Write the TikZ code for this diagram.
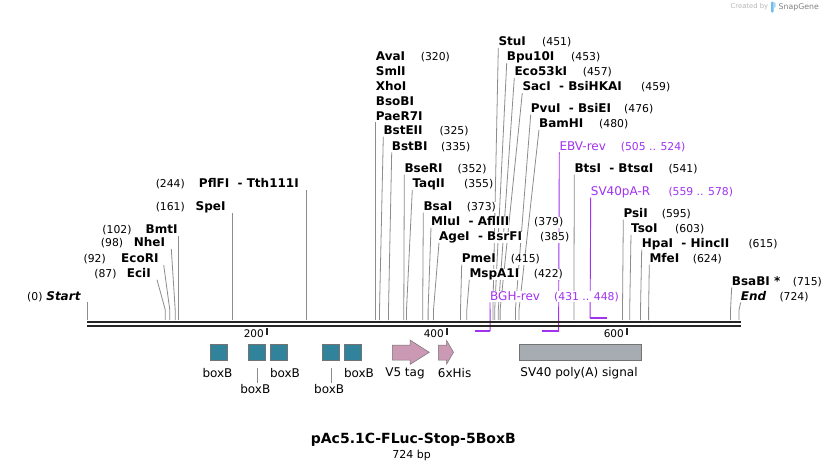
\documentclass[tikz,border=0pt]{standalone}
\usepackage{fontspec}
\setmainfont{DejaVu Sans}
\usetikzlibrary{backgrounds}

\definecolor{boxteal}{RGB}{49,131,155}
\definecolor{tagpink}{RGB}{204,153,180}
\definecolor{polyagray}{RGB}{166,172,178}
\definecolor{primerpurple}{RGB}{160,50,240}
\definecolor{sitegray}{RGB}{140,140,140}
\definecolor{logoblue}{RGB}{110,190,235}

\begin{document}
\begin{tikzpicture}[x=1pt,y=-1pt,
  enz/.style={font=\fontsize{12}{14}\selectfont\bfseries,inner sep=0pt,text height=8.8pt,text depth=2.2pt,fill=white},
  enzit/.style={enz,font=\fontsize{12}{14}\selectfont\bfseries\itshape},
  num/.style={font=\fontsize{10.8}{13}\selectfont,inner sep=0pt,text height=8.8pt,text depth=2.2pt,fill=white},
  prm/.style={font=\fontsize{12}{14}\selectfont,text=primerpurple,inner sep=0pt,text height=8.8pt,text depth=2.2pt,fill=white},
  prmnum/.style={num,text=primerpurple},
  site/.style={draw=sitegray,line width=0.8pt},
  oligo/.style={draw=primerpurple,line width=0.9pt},
  feat/.style={font=\fontsize{12}{14}\selectfont,inner sep=1pt},
  boxb/.style={draw=black!55,line width=0.5pt,fill=boxteal,minimum width=17.4pt,minimum height=16pt,inner sep=0pt},
  ruler/.style={font=\fontsize{10.5}{12}\selectfont,inner sep=0pt}]

\useasboundingbox (0,0) rectangle (828,471);

% backbone
\draw[line width=2.4pt,black!85] (87,322.2) -- (741,322.2);
\draw[line width=2.4pt,black!85] (87,326.2) -- (741,326.2);
\draw[line width=2pt,black!85] (267,328) -- (267,335);
\draw[line width=2pt,black!85] (447,328) -- (447,335);
\draw[line width=2pt,black!85] (627,328) -- (627,335);
\node[ruler,anchor=east] (r200) at (264,334) {200};
\node[ruler,anchor=east] (r400) at (444,334) {400};
\node[ruler,anchor=east] (r600) at (624,334) {600};

% sites, left side
\coordinate (startB) at (87.5,320);
\node[enzit,anchor=east] (start) at (80.7,296.7) {Start};
\node[num,anchor=east] (startN) at (42.7,296.7) {(0)};
\coordinate (eciB) at (165.3,320);
\node[enz,anchor=east] (eci) at (151,274) {EciI};
\node[num,anchor=east] (eciN) at (116.7,274) {(87)};
\coordinate (ecoB) at (169.8,320);
\node[enz,anchor=east] (eco) at (158.7,259.3) {EcoRI};
\node[num,anchor=east] (ecoN) at (106,259.3) {(92)};
\coordinate (nheB) at (175.2,320);
\node[enz,anchor=east] (nhe) at (165.3,243.3) {NheI};
\node[num,anchor=east] (nheN) at (123.3,243.3) {(98)};
\coordinate (bmtB) at (178.8,320);
\node[enz,anchor=east] (bmt) at (177.7,230) {BmtI};
\node[num,anchor=east] (bmtN) at (131.7,230) {(102)};
\coordinate (speB) at (231.9,320);
\node[enz,anchor=east] (spe) at (225.7,207.3) {SpeI};
\node[num,anchor=east] (speN) at (185,207.3) {(161)};
\coordinate (pflB) at (306.6,320);
\node[enz,anchor=east] (pfl) at (299,184.3) {PflFI\ \ - Tth111I};
\node[num,anchor=east] (pflN) at (185,184.3) {(244)};

% sites, right side
\coordinate (avaB) at (375,320);
\node[enz,anchor=west] (ava) at (375.7,56.7) {AvaI};
\node[num,anchor=west] (avaN) at (420.7,56.7) {(320)};
\node[enz,anchor=west] (sml) at (375.7,71.7) {SmlI};
\node[enz,anchor=west] (xho) at (375.7,86.7) {XhoI};
\node[enz,anchor=west] (bso) at (375.7,101.7) {BsoBI};
\node[enz,anchor=west] (pae) at (375.7,116.7) {PaeR7I};
\coordinate (bsteB) at (379.5,320);
\node[enz,anchor=west] (bste) at (383.3,131) {BstEII};
\node[num,anchor=west] (bsteN) at (439.3,131) {(325)};
\coordinate (bstbB) at (388.5,320);
\node[enz,anchor=west] (bstb) at (391.7,146.7) {BstBI};
\node[num,anchor=west] (bstbN) at (441,146.7) {(335)};
\coordinate (bserB) at (403.8,320);
\node[enz,anchor=west] (bser) at (404.3,169) {BseRI};
\node[num,anchor=west] (bserN) at (457.3,169) {(352)};
\coordinate (taqB) at (406.5,320);
\node[enz,anchor=west] (taq) at (412.3,184.3) {TaqII};
\node[num,anchor=west] (taqN) at (464,184.3) {(355)};
\coordinate (bsaB) at (422.7,320);
\node[enz,anchor=west] (bsa) at (423.3,207) {BsaI};
\node[num,anchor=west] (bsaN) at (466.7,207) {(373)};
\coordinate (mluB) at (428.1,320);
\node[enz,anchor=west] (mlu) at (431,222) {MluI\ \ - AflIII};
\node[num,anchor=west] (mluN) at (534,222) {(379)};
\coordinate (ageB) at (433.5,320);
\node[enz,anchor=west] (age) at (439,237) {AgeI\ \ - BsrFI};
\node[num,anchor=west] (ageN) at (540,237) {(385)};
\coordinate (pmeB) at (460.5,320);
\node[enz,anchor=west] (pme) at (461.7,259) {PmeI};
\node[num,anchor=west] (pmeN) at (510.7,259) {(415)};
\coordinate (mspB) at (466.8,320);
\node[enz,anchor=west] (msp) at (469.3,274) {MspA1I};
\node[num,anchor=west] (mspN) at (533.7,274) {(422)};
\coordinate (stuB) at (492.9,320);
\node[enz,anchor=west] (stu) at (498.3,42.3) {StuI};
\node[num,anchor=west] (stuN) at (542,42.3) {(451)};
\coordinate (bpuB) at (494.7,320);
\node[enz,anchor=west] (bpu) at (506.7,57.3) {Bpu10I};
\node[num,anchor=west] (bpuN) at (571,57.3) {(453)};
\coordinate (ecokB) at (498.3,320);
\node[enz,anchor=west] (ecok) at (514.3,72.3) {Eco53kI};
\node[num,anchor=west] (ecokN) at (582.7,72.3) {(457)};
\coordinate (sacB) at (500.1,320);
\node[enz,anchor=west] (sac) at (522.3,87.3) {SacI\ \ - BsiHKAI};
\node[num,anchor=west] (sacN) at (641,87.3) {(459)};
\coordinate (pvuB) at (515.4,320);
\node[enz,anchor=west] (pvu) at (530.7,109) {PvuI\ \ - BsiEI};
\node[num,anchor=west] (pvuN) at (624,109) {(476)};
\coordinate (bamB) at (519,320);
\node[enz,anchor=west] (bam) at (539,124) {BamHI};
\node[num,anchor=west] (bamN) at (599,124) {(480)};
\coordinate (btsB) at (573.9,320);
\node[enz,anchor=west] (bts) at (574.3,169) {BtsI\ \ - BtsαI};
\node[num,anchor=west] (btsN) at (668.3,169) {(541)};
\coordinate (psiB) at (622.5,320);
\node[enz,anchor=west] (psi) at (623.3,214) {PsiI};
\node[num,anchor=west] (psiN) at (661.7,214) {(595)};
\coordinate (tsoB) at (629.7,320);
\node[enz,anchor=west] (tso) at (631,229) {TsoI};
\node[num,anchor=west] (tsoN) at (675,229) {(603)};
\coordinate (hpaB) at (640.5,320);
\node[enz,anchor=west] (hpa) at (641.7,244) {HpaI\ \ - HincII};
\node[num,anchor=west] (hpaN) at (748.3,244) {(615)};
\coordinate (mfeB) at (648.6,320);
\node[enz,anchor=west] (mfe) at (649.3,259) {MfeI};
\node[num,anchor=west] (mfeN) at (692.7,259) {(624)};
\coordinate (bsabB) at (730.5,320);
\node[enz,anchor=west] (bsab) at (731.7,281.7) {BsaBI *};
\node[num,anchor=west] (bsabN) at (792.7,281.7) {(715)};
\coordinate (endB) at (739,320);
\node[enzit,anchor=west] (end) at (740.7,296.7) {End};
\node[num,anchor=west] (endN) at (779.3,296.7) {(724)};

% primers
\coordinate (bghR) at (490.2,331);
\coordinate (bghL) at (474.9,331);
\node[prm,anchor=west] (bgh) at (490,296.7) {BGH-rev};
\node[prmnum,anchor=west] (bghN) at (554,296.7) {(431 .. 448)};
\coordinate (ebvR) at (558.6,331);
\coordinate (ebvL) at (541.5,331);
\node[prm,anchor=west] (ebv) at (559.3,146.7) {EBV-rev};
\node[prmnum,anchor=west] (ebvN) at (620.7,146.7) {(505 .. 524)};
\coordinate (svL) at (590.1,318);
\coordinate (svR) at (607.2,318);
\node[prm,anchor=west] (sv) at (590.7,191.7) {SV40pA-R};
\node[prmnum,anchor=west] (svN) at (668.3,191.7) {(559 .. 578)};

\begin{scope}[on background layer]
\fill[white] (0,0) rectangle (828,471);
\draw[site] (startB) -- (startB |- start.south);
\draw[site] ([xshift=6pt]eci.south east) -- ([yshift=10pt]eciB) -- (eciB);
\draw[site] ([xshift=5pt]eco.south east) -- ([yshift=10pt]ecoB) -- (ecoB);
\draw[site] ([xshift=6pt]nhe.south east) -- ([yshift=10pt]nheB) -- (nheB);
\draw[site] (bmtB) -- (bmtB |- bmt.south);
\draw[site] (speB) -- (speB |- spe.south);
\draw[site] (pflB) -- (pflB |- pfl.south);
\draw[site] (avaB) -- (avaB |- pae.south);
\draw[site] (bste.south west) -- ([yshift=10pt]bsteB) -- (bsteB);
\draw[site] (bstb.south west) -- ([yshift=10pt]bstbB) -- (bstbB);
\draw[site] (bser.south west) -- ([yshift=10pt]bserB) -- (bserB);
\draw[site] (taq.south west) -- ([yshift=10pt]taqB) -- (taqB);
\draw[site] (bsa.south west) -- ([yshift=10pt]bsaB) -- (bsaB);
\draw[site] (mlu.south west) -- ([yshift=10pt]mluB) -- (mluB);
\draw[site] (age.south west) -- ([yshift=10pt]ageB) -- (ageB);
\draw[site] (pme.south west) -- ([yshift=10pt]pmeB) -- (pmeB);
\draw[site] (msp.south west) -- ([yshift=10pt]mspB) -- (mspB);
\draw[site] (stu.south west) -- ([yshift=10pt]stuB) -- (stuB);
\draw[site] (bpu.south west) -- ([yshift=10pt]bpuB) -- (bpuB);
\draw[site] (ecok.south west) -- ([yshift=10pt]ecokB) -- (ecokB);
\draw[site] (sac.south west) -- ([yshift=10pt]sacB) -- (sacB);
\draw[site] (pvu.south west) -- ([yshift=10pt]pvuB) -- (pvuB);
\draw[site] (bam.south west) -- ([yshift=10pt]bamB) -- (bamB);
\draw[site] (bts.south west) -- ([yshift=10pt]btsB) -- (btsB);
\draw[site] (psi.south west) -- ([yshift=10pt]psiB) -- (psiB);
\draw[site] (tso.south west) -- ([yshift=10pt]tsoB) -- (tsoB);
\draw[site] (hpa.south west) -- ([yshift=10pt]hpaB) -- (hpaB);
\draw[site] (mfe.south west) -- ([yshift=10pt]mfeB) -- (mfeB);
\draw[site] (bsab.south west) -- ([yshift=10pt]bsabB) -- (bsabB);
\draw[site] (end.south west) -- ([yshift=10pt]endB) -- (endB);
\draw[oligo] (bgh.south west) -- (bghR);
\draw[oligo] (ebv.south west) -- (ebvR);
\draw[oligo] (sv.south west) -- (svL);
\end{scope}
\draw[primerpurple,line width=2pt] (bghL) -- (bghR);
\draw[primerpurple,line width=2pt] (ebvL) -- (ebvR);
\draw[primerpurple,line width=2pt] (svL) -- (svR);

% features
\node[boxb] (bx1) at (218.9,352.3) {};
\node[boxb] (bx2) at (257,352.3) {};
\node[boxb] (bx3) at (279,352.3) {};
\node[boxb] (bx4) at (331,352.3) {};
\node[boxb] (bx5) at (353,352.3) {};
\node[feat] (lb1) at (217.5,373.3) {boxB};
\node[feat] (lb2) at (255.3,389.3) {boxB};
\node[feat] (lb3) at (285,373.3) {boxB};
\node[feat] (lb4) at (329.2,389.3) {boxB};
\node[feat] (lb5) at (359,373.3) {boxB};
\draw[sitegray,line width=0.8pt] ([yshift=-7pt]bx2.south) -- (bx2 |- lb2.north);
\draw[sitegray,line width=0.8pt] ([yshift=-7pt]bx4.south) -- (bx4 |- lb4.north);

\draw[black!55,line width=0.5pt,fill=tagpink] (392.3,345) -- (410,345) -- (410,340) -- (429.3,352.3)
  -- (410,364.5) -- (410,360) -- (392.3,360) -- cycle;
\draw[black!55,line width=0.5pt,fill=tagpink] (438.3,345) -- (446.7,345) -- (446.7,340.5) -- (453.5,352.3)
  -- (446.7,364) -- (446.7,360) -- (438.3,360) -- cycle;
\node[feat] (v5) at (405,373.3) {V5 tag};
\node[feat] (his) at (454.6,373.3) {6xHis};

\draw[black!55,line width=0.5pt,fill=polyagray] (519.3,344.5) rectangle (641.7,360);
\node[feat] (polya) at (579,373.3) {SV40 poly(A) signal};

% title
\node[font=\fontsize{14}{16}\selectfont\bfseries] (title) at (413.3,440) {pAc5.1C-FLuc-Stop-5BoxB};
\node[font=\fontsize{11}{13}\selectfont] (size) at (411.7,455) {724 bp};

% credit
\node[font=\fontsize{6.8}{8}\selectfont,text=black!28,inner sep=0pt,anchor=east] (credit) at (768.3,7) {Created by};
\fill[logoblue,rounded corners=1pt] (771,1.5) rectangle (773.6,12.5);
\fill[logoblue!60] (773.6,2) -- (775.5,3) -- (775.5,7) -- (773.6,8) -- cycle;
\node[font=\fontsize{7.8}{9}\selectfont,text=black!50,inner sep=0pt,anchor=west] (sg) at (778.5,7) {SnapGene};
\end{tikzpicture}
\end{document}
